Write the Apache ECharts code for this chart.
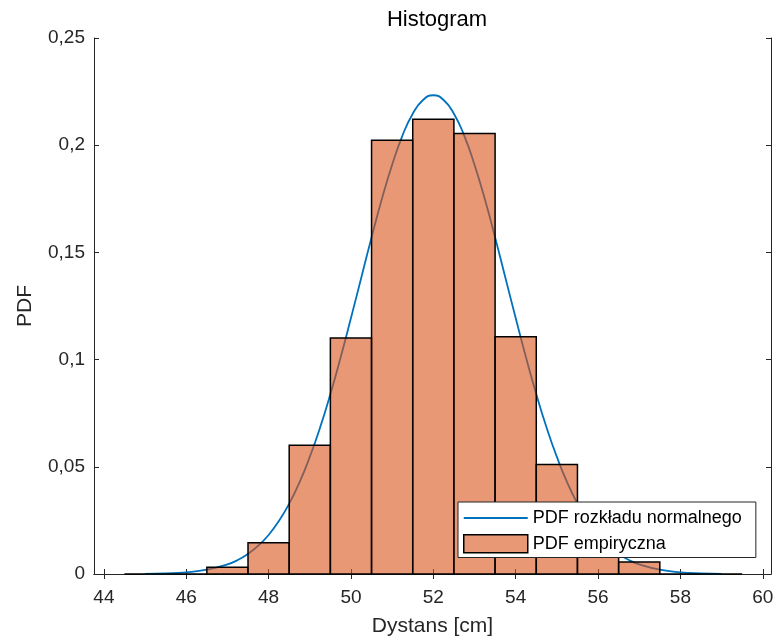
<!DOCTYPE html>
<html>
<head>
<meta charset="utf-8">
<script src="https://cdn.jsdelivr.net/npm/echarts@6/dist/echarts.min.js"></script>
<style>
  html, body { margin: 0; padding: 0; background: #fff; }
  #chart { width: 778px; height: 643px; }
</style>
</head>
<body>
<div id="chart"></div>
<script>
// histogram bins (edges) and empirical pdf heights
const binLeft  = [44.5, 45.5, 46.5, 47.5, 48.5, 49.5, 50.5, 51.5, 52.5, 53.5, 54.5, 55.5, 56.5, 57.5, 58.5];
const binRight = [45.5, 46.5, 47.5, 48.5, 49.5, 50.5, 51.5, 52.5, 53.5, 54.5, 55.5, 56.5, 57.5, 58.5, 59.5];
const binPdf   = [0, 0, 0.0031, 0.0146, 0.0601, 0.1101, 0.2023, 0.2121, 0.2054, 0.1106, 0.0511, 0.024, 0.0056, 0, 0];

// normal pdf curve
const normX = [45, 45.5, 46, 46.5, 47, 47.25, 47.5, 47.75, 48, 48.25, 48.5, 48.75, 49, 49.25, 49.5, 49.75,
  50, 50.25, 50.5, 50.75, 51, 51.25, 51.5, 51.75, 52, 52.25, 52.5, 52.75, 53, 53.25, 53.5, 53.75,
  54, 54.25, 54.5, 54.75, 55, 55.25, 55.5, 55.75, 56, 56.25, 56.5, 56.75, 57, 57.5, 58, 58.5, 59];
const normY = [0.0001, 0.0003, 0.0008, 0.0020, 0.0045, 0.0065, 0.0094, 0.0132, 0.0182, 0.0247, 0.0328, 0.0427, 0.0546, 0.0683, 0.0839, 0.1011,
  0.1194, 0.1382, 0.1570, 0.1749, 0.1909, 0.2045, 0.2147, 0.2211, 0.2233, 0.2211, 0.2147, 0.2045, 0.1909, 0.1749, 0.1570, 0.1382,
  0.1194, 0.1011, 0.0839, 0.0683, 0.0546, 0.0427, 0.0328, 0.0247, 0.0182, 0.0132, 0.0094, 0.0065, 0.0045, 0.0020, 0.0008, 0.0003, 0.0001];

const xTicks = [44, 46, 48, 50, 52, 54, 56, 58, 60];

const FONT = 'Liberation Sans, Arial, sans-serif';
const AX = '#262626';
const barFill = 'rgba(217,83,25,0.6)';
const lineBlue = '#0072BD';
// thin line sample for the legend (invisible corner points keep the box 64x18)
const lineIcon = 'path://M0,0 L0,0 M0,8.1 L64,8.1 L64,9.9 L0,9.9 Z M64,18 L64,18';

const chart = echarts.init(document.getElementById('chart'), null, { renderer: 'canvas' });

const xBase = {
  type: 'value', min: 43.76, max: 60.2,
  splitLine: { show: false },
  axisLine: { lineStyle: { color: AX, width: 1 } },
  axisTick: { inside: true, length: 5, customValues: xTicks, lineStyle: { color: AX } },
};
const yBase = {
  type: 'value', min: 0, max: 0.25, interval: 0.05,
  splitLine: { show: false },
  axisLine: { show: true, lineStyle: { color: AX, width: 1 } },
  axisTick: { show: true, inside: true, length: 5, lineStyle: { color: AX } },
};

chart.setOption({
  animation: false,
  backgroundColor: '#fff',
  textStyle: { fontFamily: FONT },
  title: {
    text: 'Histogram', left: 432, top: 4, textAlign: 'center',
    textStyle: { fontFamily: FONT, fontSize: 22, fontWeight: 'normal', color: '#000' }
  },
  grid: { left: 94, right: 7, top: 38, bottom: 69 },
  legend: {
    orient: 'vertical', left: 458, top: 502,
    padding: [7, 14, 4, 5], itemGap: 7, itemWidth: 64, itemHeight: 18,
    backgroundColor: '#fff', borderColor: AX, borderWidth: 1, borderRadius: 0,
    textStyle: { fontFamily: FONT, fontSize: 18, color: '#000' },
    data: [
      { name: 'PDF rozkładu normalnego', icon: lineIcon, itemStyle: { color: lineBlue, borderWidth: 0 } },
      { name: 'PDF empiryczna', icon: 'rect', itemStyle: { color: barFill, borderColor: '#000', borderWidth: 1.5 } }
    ]
  },
  xAxis: [
    Object.assign({}, xBase, {
      position: 'bottom',
      name: 'Dystans [cm]', nameLocation: 'middle', nameGap: 42,
      nameTextStyle: { fontFamily: FONT, fontSize: 21, color: AX },
      axisLabel: { customValues: xTicks, margin: 14, fontFamily: FONT, fontSize: 19, color: AX }
    }),
    Object.assign({}, xBase, { position: 'top', axisLabel: { show: false } })
  ],
  yAxis: [
    Object.assign({}, yBase, {
      position: 'left',
      name: 'PDF', nameLocation: 'middle', nameGap: 58,
      nameTextStyle: { fontFamily: FONT, fontSize: 21, color: AX },
      axisLabel: {
        margin: 9, fontFamily: FONT, fontSize: 19, color: AX,
        formatter: v => String(parseFloat(v.toFixed(2))).replace('.', ',')
      }
    }),
    Object.assign({}, yBase, { position: 'right', axisLabel: { show: false } })
  ],
  series: [
    {
      name: 'PDF rozkładu normalnego',
      type: 'line',
      xAxisIndex: 0, yAxisIndex: 0,
      symbol: 'none',
      showSymbol: false,
      smooth: true,
      z: 2,
      lineStyle: { color: lineBlue, width: 1.8 },
      itemStyle: { color: lineBlue },
      data: normX.map((x, i) => [x, normY[i]])
    },
    {
      name: 'PDF empiryczna',
      type: 'custom',
      xAxisIndex: 0, yAxisIndex: 0,
      z: 3,
      itemStyle: { color: barFill },
      encode: { x: [0, 1], y: 2 },
      renderItem: function (params, api) {
        const p0 = api.coord([api.value(0), api.value(2)]);
        const p1 = api.coord([api.value(1), 0]);
        return {
          type: 'rect',
          shape: { x: p0[0], y: p0[1], width: p1[0] - p0[0], height: p1[1] - p0[1] },
          style: { fill: barFill, stroke: '#000', lineWidth: 1.5 }
        };
      },
      data: binLeft.map((l, i) => [l, binRight[i], binPdf[i]])
    }
  ]
});
</script>
</body>
</html>
